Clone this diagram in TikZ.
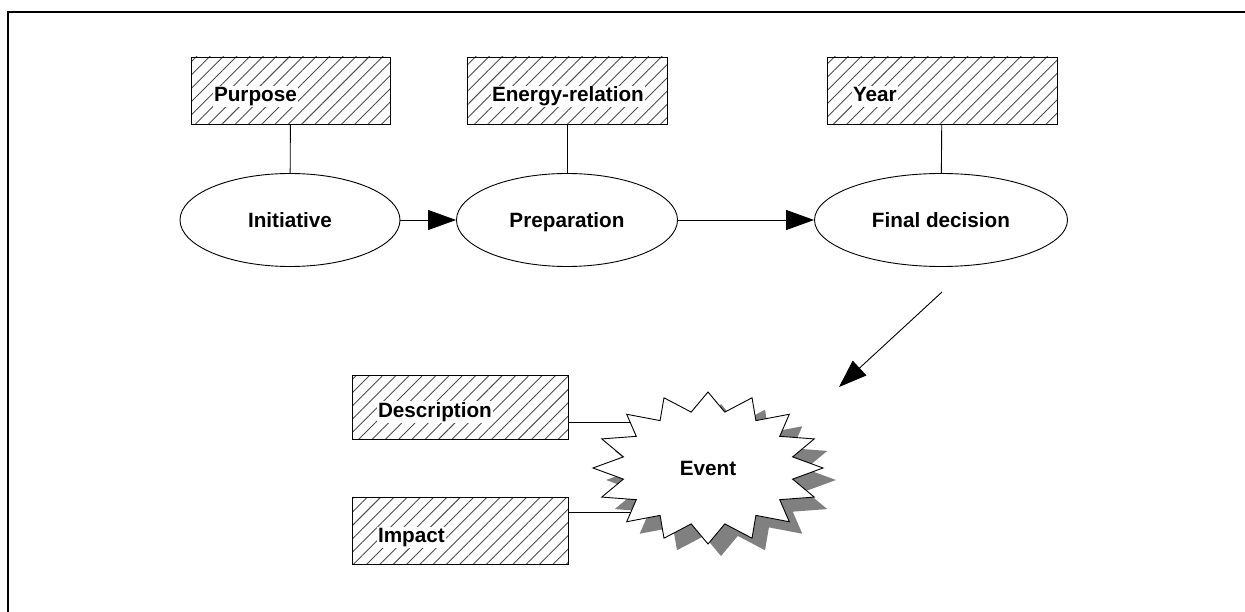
\documentclass[tikz,border=0pt]{standalone}
\usepackage{fontspec}
\setmainfont{Liberation Sans}
\usetikzlibrary{arrows.meta,positioning,patterns.meta,shapes.geometric}

% 16-point burst, outer radii 115 x 76
\newcommand\burstpath{(90:115 and 76)
  \foreach \k in {1,...,31}{
    -- ({90+\k*11.25}:{115*(1-0.25*mod(\k,2))} and {76*(1-0.25*mod(\k,2))})}
  -- cycle}

\begin{document}
\begin{tikzpicture}[x=1pt,y=-1pt,>={Triangle[length=28pt,width=20pt]},
                    font=\fontsize{20.7}{25}\selectfont\bfseries,
                    line width=0.9pt]
  \tikzstyle{phase}=[ellipse,draw,fill=white,minimum height=93pt,inner sep=0pt,
                     text height=20pt,text depth=4pt]
  \tikzstyle{attr}=[rectangle,draw,inner sep=0pt,minimum height=67pt,
                    pattern={Lines[angle=45,distance=9.4pt,line width=0.9pt]},
                    pattern color=black!70]
  \tikzstyle{attrtext}=[fill=white,inner sep=1pt,anchor=west,
                        text height=15pt,text depth=4.5pt]

  \useasboundingbox (0,0) rectangle (1245,612);
  \draw[line width=2pt] (8,612) |- (1245,12);

  % phases
  \node[phase,minimum width=220pt] (I) at (290,220) {Initiative};
  \node[phase,minimum width=221pt] (P) at (567,220) {Preparation};
  \node[phase,minimum width=253pt] (F) at (941,220) {Final decision};

  % attributes of the phases
  \node[attr,minimum width=199pt] (Pu) at (290.5,90.5) {};
  \node[attr,minimum width=200pt] (En) at (567,90.5) {};
  \node[attr,minimum width=230pt] (Ye) at (942,90.5) {};
  \node[attrtext] (PuT) at ([shift={(22,6)}]Pu.west) {Purpose};
  \node[attrtext] (EnT) at ([shift={(24,6)}]En.west) {Energy-relation};
  \node[attrtext] (YeT) at ([shift={(25,6)}]Ye.west) {Year};

  \draw (Pu) -- (I);
  \draw (En) -- (P);
  \draw (Ye) -- (F);

  \draw[->] (I) -- (P);
  \draw[->] (P) -- (F);

  % the event
  \coordinate (Ec) at (708,468);
  \coordinate (Ftail) at (942,292);
  \coordinate (Ehead) at (839,387);

  \node[attr,minimum width=216pt,minimum height=64pt] (De) at (460,407) {};
  \node[attr,minimum width=216pt] (Im) at (460,530.5) {};
  \node[attrtext] (DeT) at ([shift={(25,5)}]De.west) {Description};
  \node[attrtext] (ImT) at ([shift={(25,7)}]Im.west) {Impact};

  \coordinate (DeO) at ([shift={(0,15)}]De.east);
  \coordinate (ImO) at ([shift={(0,-18)}]Im.east);
  \draw (DeO) -- (DeO -| Ec);
  \draw (ImO) -- (ImO -| Ec);

  \begin{scope}[shift={(Ec)}]
    \fill[black!50,shift={(13,12)}] \burstpath;
    \draw[fill=white] \burstpath;
  \end{scope}
  \node (E) at (Ec) {Event};

  \draw[->] (Ftail) -- (Ehead);
\end{tikzpicture}
\end{document}
